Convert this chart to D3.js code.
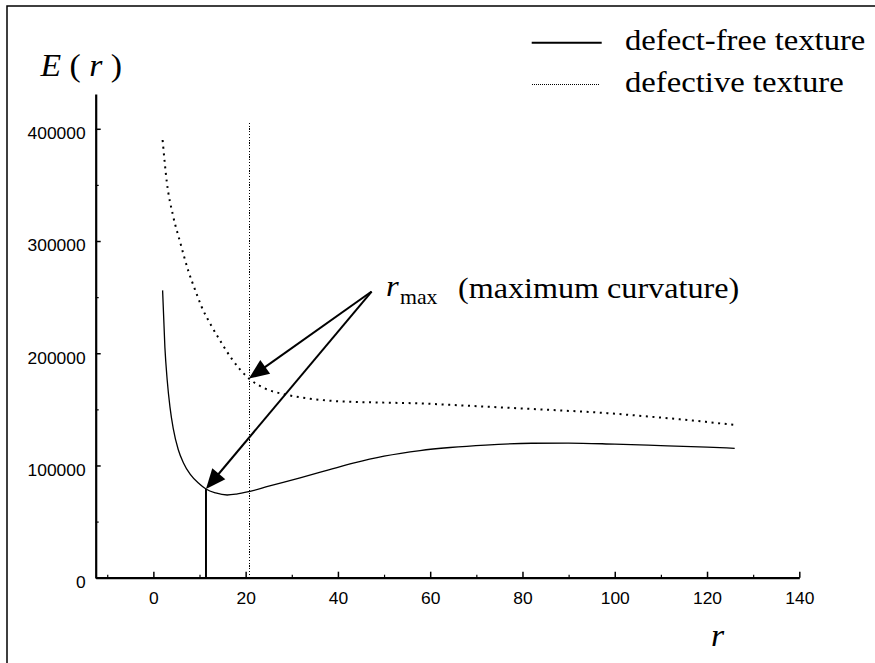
<!DOCTYPE html>
<html>
<head>
<meta charset="utf-8">
<script src="https://cdn.jsdelivr.net/npm/d3@7"></script>
<style>
  html, body { margin: 0; padding: 0; background: #fff; }
  svg { display: block; }
</style>
</head>
<body>
<svg id="chart" width="875" height="663"></svg>
<script>
// Energy E(r) against window size r for the two textures
const freeR = [2, 2.5, 3, 3.6, 4.3, 5.4, 6.5, 8, 10, 11.4, 13.5, 16, 18, 20.7, 25, 31.8, 38, 43.3, 50, 57.8, 64.3, 72, 82, 90, 100, 110, 120, 126];
const freeE = [256000, 205000, 176000, 152000, 133000, 114000, 102500, 92000, 83500, 79000, 75500, 73700, 74500, 76700, 81500, 89000, 96000, 102000, 108300, 113300, 116000, 118200, 119800, 120000, 119000, 117700, 116300, 115300];

const defR = [2, 2.9, 4.3, 5.8, 7.6, 9, 10.5, 12.5, 14.5, 17, 20.7, 24, 28.9, 34, 39.7, 50, 57.8, 64.3, 75, 86, 97, 107.6, 117, 126];
const defE = [390000, 353000, 322000, 299000, 273000, 257000, 241000, 225000, 211000, 195000, 177500, 169000, 163000, 159500, 157300, 156000, 155300, 154000, 151800, 149500, 147000, 143500, 140000, 136100];

// Maximum-curvature points (r, E) and the vertical markers drawn at them
const rMaxFree = [11.4, 79000];
const rMaxDef = [20.7, 177500];
const defMarkerTop = 407000;
const labelAnchor = [47.3, 255000];

const xMajorTicks = [0, 20, 40, 60, 80, 100, 120, 140];
const xMinorTicks = [-10, 10, 30, 50, 70, 90, 110, 130];
const yMajorTicks = [0, 100000, 200000, 300000, 400000];
const yMinorTicks = [50000, 150000, 250000, 350000];

const legendLabels = ["defect-free texture", "defective texture"];

const SX = 1.09; // horizontal text stretch
const serif = "'Liberation Serif', 'Times New Roman', serif";
const sans = "'Liberation Sans', Arial, sans-serif";

const svg = d3.select("#chart");

// outer frame
svg.append("rect")
  .attr("x", 7).attr("y", 6).attr("width", 900).attr("height", 700)
  .attr("fill", "none").attr("stroke", "#000").attr("stroke-width", 1.5);

const x = d3.scaleLinear().domain([-12.5, 140]).range([95.7, 799.3]);
const y = d3.scaleLinear().domain([0, 431000]).range([577.7, 94]);

function stretch(sel) {
  sel.each(function () {
    const t = d3.select(this);
    const tx = +t.attr("x") || 0, ty = +t.attr("y") || 0;
    t.attr("x", 0).attr("y", 0)
      .attr("transform", `translate(${tx},${ty}) scale(${SX},1)`);
  });
}

// x axis
const gx = svg.append("g").attr("transform", `translate(0,${y(0)})`);
gx.call(d3.axisBottom(x).tickValues(xMajorTicks).tickSize(-6).tickPadding(15).tickSizeOuter(0))
  .call(g => g.select(".domain").attr("stroke-width", 2.2))
  .call(g => g.selectAll(".tick line").attr("stroke-width", 1.5))
  .call(g => g.selectAll(".tick text").attr("font-family", sans).attr("font-size", 16).attr("fill", "#000").call(stretch));
svg.append("g").attr("transform", `translate(0,${y(0)})`)
  .call(d3.axisBottom(x).tickValues(xMinorTicks).tickSize(-3).tickFormat(""))
  .call(g => g.select(".domain").remove())
  .call(g => g.selectAll(".tick line").attr("stroke-width", 1.2));

// y axis
const gy = svg.append("g").attr("transform", `translate(${x(-12.5)},0)`);
gy.call(d3.axisLeft(y).tickValues(yMajorTicks).tickSize(-5).tickPadding(10).tickSizeOuter(0).tickFormat(d3.format("d")))
  .call(g => g.select(".domain").attr("stroke-width", 2.2))
  .call(g => g.selectAll(".tick line").attr("stroke-width", 1.5))
  .call(g => g.selectAll(".tick text").attr("font-family", sans).attr("font-size", 16).attr("fill", "#000").attr("dy", "0.62em").call(stretch));
svg.append("g").attr("transform", `translate(${x(-12.5)},0)`)
  .call(d3.axisLeft(y).tickValues(yMinorTicks).tickSize(-3).tickFormat(""))
  .call(g => g.select(".domain").remove())
  .call(g => g.selectAll(".tick line").attr("stroke-width", 1.2));

// curves
const line = d3.line().x(d => x(d[0])).y(d => y(d[1])).curve(d3.curveMonotoneX);
svg.append("path")
  .datum(freeR.map((r, i) => [r, freeE[i]]))
  .attr("d", line).attr("fill", "none").attr("stroke", "#000").attr("stroke-width", 1.3);
svg.append("path")
  .datum(defR.map((r, i) => [r, defE[i]]))
  .attr("d", line).attr("fill", "none").attr("stroke", "#000")
  .attr("stroke-width", 2).attr("stroke-dasharray", "2,4.6");

// vertical markers at r_max
svg.append("line")
  .attr("x1", x(rMaxFree[0])).attr("x2", x(rMaxFree[0]))
  .attr("y1", y(0)).attr("y2", y(rMaxFree[1]))
  .attr("stroke", "#000").attr("stroke-width", 2);
const xd = Math.round(x(rMaxDef[0])) + 0.5;
svg.append("line")
  .attr("x1", xd).attr("x2", xd)
  .attr("y1", y(0)).attr("y2", y(defMarkerTop))
  .attr("stroke", "#000").attr("stroke-width", 1).attr("stroke-dasharray", "1.2,1.6")
  .attr("shape-rendering", "crispEdges");

// arrows from the label to both maximum-curvature points
function arrow(from, to) {
  const x0 = x(from[0]), y0 = y(from[1]), x1 = x(to[0]), y1 = y(to[1]);
  const dx = x1 - x0, dy = y1 - y0, len = Math.hypot(dx, dy);
  const ux = dx / len, uy = dy / len;
  const hl = 20, hw = 8.5;
  const bx = x1 - ux * hl, by = y1 - uy * hl;
  svg.append("line").attr("x1", x0).attr("y1", y0).attr("x2", bx + ux * 2).attr("y2", by + uy * 2)
    .attr("stroke", "#000").attr("stroke-width", 2);
  svg.append("polygon")
    .attr("points", [[x1, y1], [bx - uy * hw, by + ux * hw], [bx + uy * hw, by - ux * hw]].map(p => p.join(",")).join(" "))
    .attr("fill", "#000");
}
arrow(labelAnchor, rMaxDef);
arrow(labelAnchor, rMaxFree);

// annotation text
const ann = svg.append("g").attr("font-family", serif).attr("fill", "#000");
ann.append("text").attr("x", 386).attr("y", 296).attr("font-size", 30).attr("font-style", "italic").text("r").call(stretch);
ann.append("text").attr("x", 400).attr("y", 304).attr("font-size", 20).text("max").call(stretch);
ann.append("text").attr("x", 458).attr("y", 298).attr("font-size", 29.5).text("(maximum curvature)").call(stretch);

// axis titles
const yt = svg.append("text").attr("x", 40.5).attr("y", 76).attr("font-family", serif).attr("font-size", 31).attr("fill", "#000");
yt.append("tspan").attr("font-style", "italic").text("E");
yt.append("tspan").text(" ( ");
yt.append("tspan").attr("font-style", "italic").text("r");
yt.append("tspan").text(" )");
yt.call(stretch);

svg.append("text").attr("x", 711).attr("y", 646).attr("font-family", serif).attr("font-size", 31)
  .attr("font-style", "italic").attr("fill", "#000").text("r").call(stretch);

// legend
const legend = svg.append("g");
legend.append("line").attr("x1", 531.7).attr("x2", 601.7).attr("y1", 42.7).attr("y2", 42.7)
  .attr("stroke", "#000").attr("stroke-width", 2);
legend.append("line").attr("x1", 532).attr("x2", 600).attr("y1", 84.5).attr("y2", 84.5)
  .attr("stroke", "#000").attr("stroke-width", 1).attr("stroke-dasharray", "1,1")
  .attr("shape-rendering", "crispEdges");
legend.selectAll("text.lg").data(legendLabels).join("text")
  .attr("class", "lg")
  .attr("x", 625).attr("y", (d, i) => 50 + i * 41.7)
  .attr("font-family", serif).attr("font-size", 30).attr("fill", "#000")
  .text(d => d)
  .call(stretch);
</script>
</body>
</html>
